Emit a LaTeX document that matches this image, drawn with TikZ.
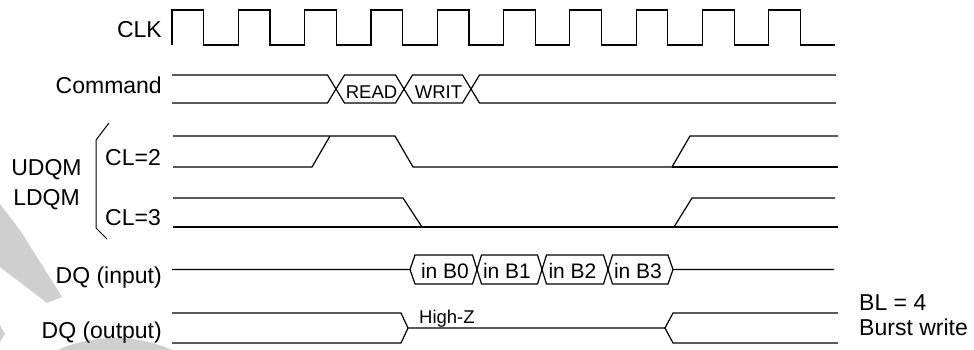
\documentclass[tikz,border=0pt]{standalone}
\usepackage{fontspec}
\setmainfont{Liberation Sans}
\begin{document}
\begin{tikzpicture}[x=1pt,y=-1pt,
  sig/.style={line width=1.2pt,line join=miter},
  lab/.style={inner sep=0pt,font=\fontsize{23}{27}\selectfont},
  small/.style={inner sep=0pt,font=\fontsize{18.5}{22}\selectfont},
  mid/.style={inner sep=0pt,font=\fontsize{21}{25}\selectfont},
  wm/.style={fill=black!19,draw=none}]
\useasboundingbox (0,0) rectangle (974,349);
% watermark fragments
\begin{scope}
\clip (0,0) rectangle (974,349);
\fill[wm] (0,204) -- (20,230) -- (62,297) -- (47,303) -- (0,267) -- cycle;
\fill[wm] (115,481) circle[radius=143];
\fill[wm] (0,325) -- (5,334) -- (0,342) -- cycle;
\end{scope}
% labels
\node[lab,anchor=base east] (clk) at (162,37.7) {CLK};
\node[lab,anchor=base east] (cmd) at (162,93) {Command};
\node[lab,anchor=base] (udqm) at (46.5,175) {UDQM};
\node[lab,anchor=base] (ldqm) at (46.5,205) {LDQM};
\node[lab,anchor=base west] (cl2) at (105,165) {CL=2};
\node[lab,anchor=base west] (cl3) at (105,225) {CL=3};
\node[lab,anchor=base east] (dqin) at (162,283) {DQ (input)};
\node[lab,anchor=base east] (dqout) at (162,338) {DQ (output)};
\node[lab,anchor=base west] (bl) at (859,310) {BL = 4};
\node[lab,anchor=base west] (bw) at (859,335) {Burst write};
% bracket
\coordinate (bt) at (109,123);
\coordinate (bb) at (107,239);
\draw[line width=1pt] (bt) -- (96,140) -- (96,228) -- (bb);
% CLK
\draw[sig] (172,45)
  \foreach \k in {0,...,9}{ -- ({172+66.3*\k},45) -- ({172+66.3*\k},10)
     -- ({203.7+66.3*\k},10) -- ({203.7+66.3*\k},45)} -- (835,45);
% Command
\draw[sig] (172,75) -- (327.5,75) -- (344.5,103) -- (395.5,103) -- (412.5,75)
  -- (462.5,75) -- (479.5,103) -- (836,103);
\draw[sig] (172,103) -- (327.5,103) -- (344.5,75) -- (395.5,75) -- (412.5,103)
  -- (462.5,103) -- (479.5,75) -- (836,75);
\node[small,anchor=base] (read) at (371.5,98) {READ};
\node[small,anchor=base] (writ) at (438.5,98) {WRIT};
% CL=2
\draw[sig] (173,136) -- (395,136) -- (413,167) -- (672,167) -- (690,136) -- (838,136);
\draw[sig] (173,167) -- (312,167) -- (330,136);
\draw[sig] (672,167) -- (838,167);
% CL=3
\draw[sig] (173,198) -- (403,198) -- (422,227);
\draw[sig] (173,227) -- (838,227);
\draw[sig] (674,227) -- (692,198) -- (835,198);
% DQ input
\draw[sig] (172,269.5) -- (410,269.5) -- (415,255) -- (472.5,255) -- (481.5,284)
  -- (537.5,284) -- (546.5,255) -- (603.5,255) -- (612.5,284) -- (668,284)
  -- (673,269.5) -- (834,269.5);
\draw[sig] (410,269.5) -- (415,284) -- (472.5,284) -- (481.5,255)
  -- (537.5,255) -- (546.5,284) -- (603.5,284) -- (612.5,255) -- (668,255)
  -- (673,269.5);
\node[mid,anchor=base] (b0) at (445,278) {in B0};
\node[mid,anchor=base] (b1) at (507,278) {in B1};
\node[mid,anchor=base] (b2) at (572.5,278) {in B2};
\node[mid,anchor=base] (b3) at (638,278) {in B3};
% DQ output
\draw[sig] (172,313) -- (401,313) -- (408,328) -- (665,328) -- (673,313) -- (838,313);
\draw[sig] (172,343) -- (401,343) -- (408,328);
\draw[sig] (665,328) -- (673,343) -- (838,343);
\node[small,anchor=base west] (hz) at (419,323) {High-Z};
\end{tikzpicture}
\end{document}
